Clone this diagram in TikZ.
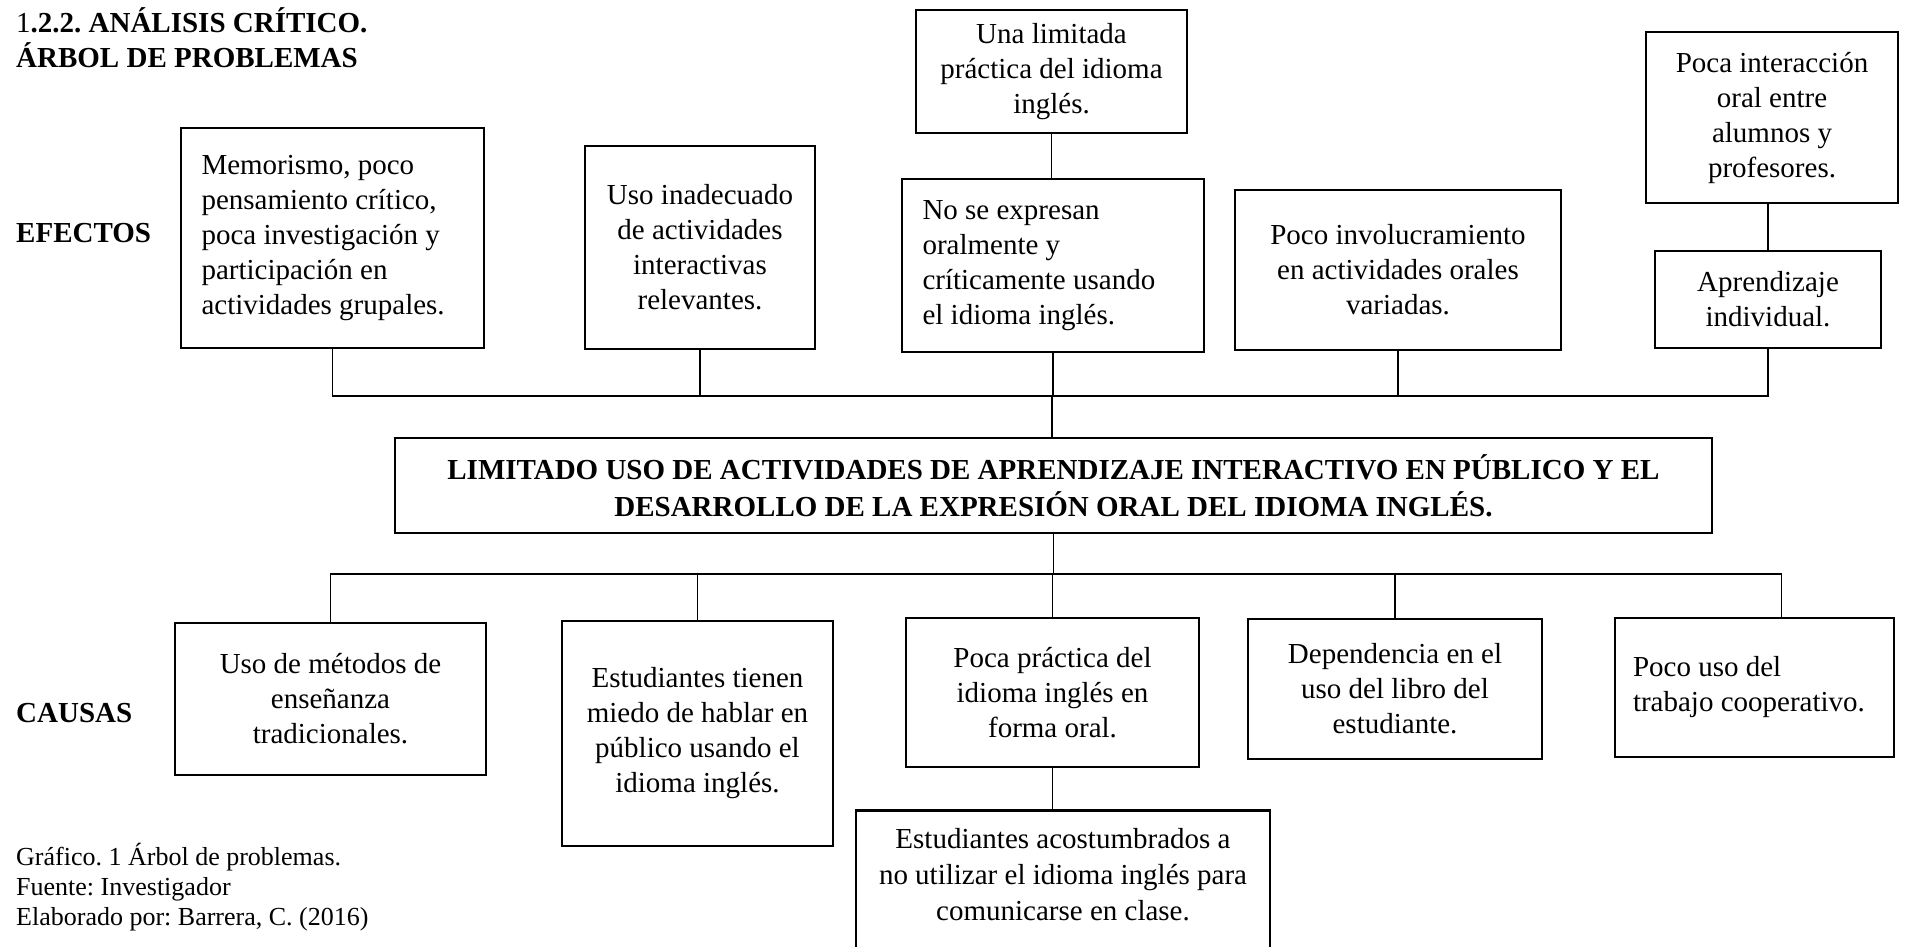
\documentclass[tikz,border=0pt]{standalone}
\usepackage{fontspec}
\setmainfont{Liberation Serif}
\usetikzlibrary{calc}
\frenchspacing
\begin{document}
\begin{tikzpicture}[x=1pt,y=-1pt,
  box/.style={draw=black, line width=2.6pt, rectangle, inner sep=0pt, font=\fontsize{29}{35}\selectfont, align=center},
  conn/.style={draw=black, line width=1.5pt},
  lbl/.style={inner sep=0pt, font=\fontsize{29}{35}\selectfont\bfseries},
  plain/.style={inner sep=0pt, align=flush left}]
\useasboundingbox (0,0) rectangle (1905,946);
\clip (0,0) rectangle (1905,946);
% titles and labels
\node[plain, anchor=north west, font=\fontsize{29}{35}\selectfont] (title) at (16,7) {1\textbf{.2.2. ANÁLISIS CRÍTICO.}\\\textbf{ÁRBOL DE PROBLEMAS}};
\node[lbl, anchor=west] (efe) at (16,233) {EFECTOS};
\node[lbl, anchor=west] (cau) at (16,713) {CAUSAS};
\node[plain, anchor=west, font=\fontsize{26}{30}\selectfont] (cap) at (16,887) {Gráfico. 1 Árbol de problemas.\\Fuente: Investigador\\Elaborado por: Barrera, C. (2016)};
% effects
\node[box, minimum width=303pt, minimum height=220pt, text width=262pt, align=flush left, inner xsep=20.5pt] (mem) at (332.5,238) {Memorismo, poco\\pensamiento crítico,\\poca investigación y\\participación en\\actividades grupales.};
\node[box, minimum width=230pt, minimum height=203pt] (uso) at (700,247.5) {Uso inadecuado\\de actividades\\interactivas\\relevantes.};
\node[box, minimum width=271pt, minimum height=123pt] (lim) at (1051.5,71.5) {Una limitada\\práctica del idioma\\inglés.};
\node[box, minimum width=302pt, minimum height=173pt, text width=261pt, align=flush left, inner xsep=20.5pt] (nose) at (1053,265.5) {No se expresan\\oralmente y\\críticamente usando\\el idioma inglés.};
\node[box, minimum width=326pt, minimum height=160pt] (inv) at (1398,270) {Poco involucramiento\\en actividades orales\\variadas.};
\node[box, minimum width=252pt, minimum height=171pt] (inter) at (1772,117.5) {Poca interacción\\oral entre\\alumnos y\\profesores.};
\node[box, minimum width=226pt, minimum height=97pt] (apr) at (1768,299.5) {Aprendizaje\\individual.};
% central problem
\node[box, minimum width=1317pt, minimum height=95pt, font=\fontsize{29}{37}\selectfont\bfseries] (cen) at (1053.5,485.5) {LIMITADO USO DE ACTIVIDADES DE APRENDIZAJE INTERACTIVO EN PÚBLICO Y EL\\DESARROLLO DE LA EXPRESIÓN ORAL DEL IDIOMA INGLÉS.};
% causes
\node[box, minimum width=311pt, minimum height=152pt] (met) at (330.5,699) {Uso de métodos de\\enseñanza\\tradicionales.};
\node[box, minimum width=271pt, minimum height=225pt] (mie) at (697.5,733.5) {Estudiantes tienen\\miedo de hablar en\\público usando el\\idioma inglés.};
\node[box, minimum width=293pt, minimum height=149pt] (pra) at (1052.5,692.5) {Poca práctica del\\idioma inglés en\\forma oral.};
\node[box, minimum width=294pt, minimum height=140pt] (dep) at (1395,689) {Dependencia en el\\uso del libro del\\estudiante.};
\node[box, minimum width=279pt, minimum height=139pt, text width=243pt, align=flush left, inner xsep=18pt] (coop) at (1754.5,687.5) {Poco uso del\\trabajo cooperativo.};
\node[box, minimum width=414pt, minimum height=191pt, anchor=north] (acos) at (1063,809) {};
\node[inner sep=0pt, align=center, font=\fontsize{29}{36}\selectfont] (acostxt) at (1063,875) {Estudiantes acostumbrados a\\no utilizar el idioma inglés para\\comunicarse en clase.};
% connectors
\coordinate (ub) at (1052,396);
\coordinate (lb) at (1050,574);
\draw[conn] (mem.south) -- (mem.south |- ub) -- (apr.south |- ub) -- (apr.south);
\foreach \n in {uso,nose,inv} \draw[conn] (\n.south) -- (\n.south |- ub);
\draw[conn] (ub) -- (ub |- cen.north);
\draw[conn] (lim.south) -- (lim.south |- nose.north);
\draw[conn] (apr.north) -- (apr.north |- inter.south);
\draw[conn] (cen.south) -- (cen.south |- lb);
\coordinate (coopin) at ($(coop.north east)+(-114,0)$);
\draw[conn] (met.north) -- (met.north |- lb) -- (coopin |- lb) -- (coopin);
\foreach \n in {mie,pra,dep} \draw[conn] (\n.north) -- (\n.north |- lb);
\draw[conn] (pra.south) -- (pra.south |- acos.north);
\end{tikzpicture}
\end{document}
